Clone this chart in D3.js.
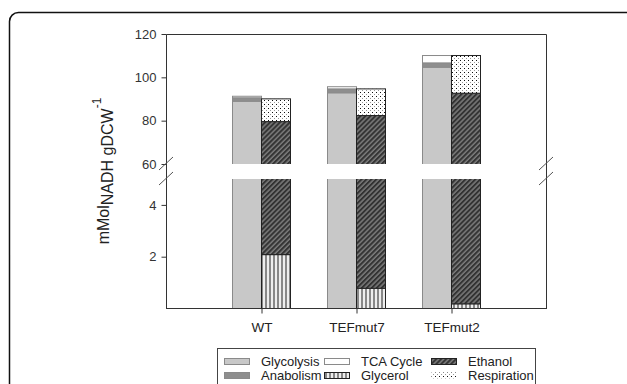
<!DOCTYPE html>
<html>
<head>
<meta charset="utf-8">
<script src="https://cdn.jsdelivr.net/npm/d3@7"></script>
<style>
  body { margin: 0; background: #fff; }
  svg { display: block; font-family: "Liberation Sans", Arial, sans-serif; }
</style>
</head>
<body>
<svg width="627" height="384"></svg>
<script>
const width = 627;
const height = 384;

// data
const categories = ["WT", "TEFmut7", "TEFmut2"];
const glycolysis = [89.2, 93.1, 104.9];
const anabolism = [1.6, 1.8, 2.0];
const tcaCycle = [0.7, 1.0, 3.4];
const glycerol = [2.1, 0.8, 0.2];
const ethanol = [77.7, 81.8, 92.7];
const respiration = [10.5, 12.3, 17.4];

const upperTicks = [60, 80, 100, 120];
const lowerTicks = [2, 4];

const leftKeys = ["glycolysis", "anabolism", "tca"];
const rightKeys = ["glycerol", "ethanol", "respiration"];

const legendItems = [
  { key: "glycolysis", label: "Glycolysis" },
  { key: "anabolism", label: "Anabolism" },
  { key: "tca", label: "TCA Cycle" },
  { key: "glycerol", label: "Glycerol" },
  { key: "ethanol", label: "Ethanol" },
  { key: "respiration", label: "Respiration" }
];

const rows = categories.map((c, i) => ({
  cat: c,
  glycolysis: glycolysis[i],
  anabolism: anabolism[i],
  tca: tcaCycle[i],
  glycerol: glycerol[i],
  ethanol: ethanol[i],
  respiration: respiration[i]
}));

const plot = { left: 166, right: 546, top: 34, bottom: 308.5 };
const barW = 29;

const x = d3.scalePoint().domain(categories).range([plot.left, plot.right]).padding(1);
const yUpper = d3.scaleLinear().domain([60, 120]).range([164, plot.top]);
const yLower = d3.scaleLinear().domain([0, 5]).range([plot.bottom, 179]);

const svg = d3.select("svg");
const defs = svg.append("defs");

// patterns
const hatch = defs.append("pattern")
  .attr("id", "hatch").attr("patternUnits", "userSpaceOnUse")
  .attr("width", 3.5).attr("height", 3.5)
  .attr("patternTransform", "rotate(45)");
hatch.append("rect").attr("width", 3.5).attr("height", 3.5).attr("fill", "#7c7c7c");
hatch.append("rect").attr("width", 2).attr("height", 3.5).attr("fill", "#333");

const vlines = defs.append("pattern")
  .attr("id", "vlines").attr("patternUnits", "userSpaceOnUse")
  .attr("width", 4).attr("height", 4);
vlines.append("rect").attr("width", 4).attr("height", 4).attr("fill", "#eee");
vlines.append("rect").attr("x", 1.5).attr("width", 1).attr("height", 4).attr("fill", "#222");

const dots = defs.append("pattern")
  .attr("id", "dots").attr("patternUnits", "userSpaceOnUse")
  .attr("width", 4).attr("height", 4);
dots.append("rect").attr("width", 4).attr("height", 4).attr("fill", "#fff");
dots.append("rect").attr("x", 0).attr("y", 0).attr("width", 1).attr("height", 1).attr("fill", "#111");
dots.append("rect").attr("x", 2).attr("y", 2).attr("width", 1).attr("height", 1).attr("fill", "#999");

const fills = {
  glycolysis: "#c8c8c8",
  anabolism: "#8e8e8e",
  tca: "#ffffff",
  glycerol: "url(#vlines)",
  ethanol: "url(#hatch)",
  respiration: "url(#dots)"
};
const strokes = {
  glycolysis: "#8a8a8a",
  anabolism: "#8a8a8a",
  tca: "#8a8a8a",
  glycerol: "#222",
  ethanol: "#222",
  respiration: "#222"
};

// outer frame
svg.append("rect")
  .attr("x", 9.5).attr("y", 12.5)
  .attr("width", 630).attr("height", 400)
  .attr("rx", 9)
  .attr("fill", "none").attr("stroke", "#111").attr("stroke-width", 1.5);

// clip panels
defs.append("clipPath").attr("id", "clipUpper")
  .append("rect").attr("x", plot.left).attr("y", plot.top - 2)
  .attr("width", plot.right - plot.left).attr("height", 164 - plot.top + 2);
defs.append("clipPath").attr("id", "clipLower")
  .append("rect").attr("x", plot.left).attr("y", 179)
  .attr("width", plot.right - plot.left).attr("height", plot.bottom - 179);

const leftStack = d3.stack().keys(leftKeys)(rows);
const rightStack = d3.stack().keys(rightKeys)(rows);

function drawPanel(y, clipId) {
  const g = svg.append("g").attr("clip-path", `url(#${clipId})`);
  [[leftStack, -barW], [rightStack, 0]].forEach(([stack, off]) => {
    g.append("g")
      .selectAll("g")
      .data(stack)
      .join("g")
      .attr("fill", s => fills[s.key])
      .attr("stroke", s => strokes[s.key])
      .selectAll("rect")
      .data(s => s)
      .join("rect")
      .attr("x", d => x(d.data.cat) + off + 0.5)
      .attr("y", d => y(d[1]) + 0.5)
      .attr("width", barW)
      .attr("height", d => Math.max(0, y(d[0]) - y(d[1])))
      .attr("stroke-width", 1);
  });
}
drawPanel(yUpper, "clipUpper");
drawPanel(yLower, "clipLower");

// frame + axes
const axisColor = "#333";
svg.append("path")
  .attr("d", `M${plot.left + 0.5},${plot.bottom}V${plot.top + 0.5}H${plot.right + 0.5}V${plot.bottom}`)
  .attr("fill", "none").attr("stroke", axisColor);
svg.append("line")
  .attr("x1", plot.left).attr("x2", plot.right + 1)
  .attr("y1", plot.bottom).attr("y2", plot.bottom)
  .attr("stroke", axisColor).attr("stroke-width", 1.2);

function yAxis(scale, ticks) {
  const g = svg.append("g")
    .attr("transform", `translate(${plot.left + 0.5},0)`)
    .call(d3.axisLeft(scale).tickValues(ticks).tickFormat(d3.format("d")).tickSize(5).tickPadding(5));
  g.select(".domain").remove();
  g.selectAll("line").attr("stroke", axisColor);
  g.selectAll("text").attr("fill", "#333").style("font-size", "13px");
}
yAxis(yUpper, upperTicks);
yAxis(yLower, lowerTicks);

const xg = svg.append("g")
  .attr("transform", `translate(0.5,${plot.bottom})`)
  .call(d3.axisBottom(x).tickSize(5).tickPadding(9));
xg.select(".domain").remove();
xg.selectAll("line").attr("stroke", axisColor);
xg.selectAll("text").attr("fill", "#222").style("font-size", "13.5px");

// axis break marks
[plot.left, plot.right].forEach(ax => {
  [0, 15].forEach(dy => {
    svg.append("line")
      .attr("x1", ax - 7).attr("y1", 170 + dy)
      .attr("x2", ax + 7).attr("y2", 157 + dy)
      .attr("stroke", "#555").attr("stroke-width", 1);
  });
});

// y label
const yl = svg.append("text")
  .attr("transform", "translate(109,171) rotate(-90)")
  .attr("text-anchor", "middle")
  .attr("fill", "#222")
  .style("font-size", "16px");
yl.append("tspan").text("mMol");
yl.append("tspan").attr("dy", 4).text("NADH gDCW");
yl.append("tspan").attr("dy", -12).style("font-size", "12px").text("-1");

// legend
svg.append("rect")
  .attr("x", 217.5).attr("y", 348.5)
  .attr("width", 318).attr("height", 60)
  .attr("fill", "none").attr("stroke", "#444");

const legendCols = [224, 324, 431];
const legendRows = [358, 372];
const lg = svg.append("g")
  .selectAll("g")
  .data(legendItems)
  .join("g")
  .attr("transform", (d, i) =>
    `translate(${legendCols[Math.floor(i / 2)]},${legendRows[i % 2]})`);
lg.append("rect")
  .attr("x", 0.5).attr("y", 0.5)
  .attr("width", 25).attr("height", 6)
  .attr("fill", d => fills[d.key])
  .attr("stroke", d => d.key === "respiration" ? "none" : strokes[d.key]);
lg.append("text")
  .attr("x", 37)
  .attr("y", 8)
  .attr("fill", "#222")
  .style("font-size", "13px")
  .text(d => d.label);
</script>
</body>
</html>
